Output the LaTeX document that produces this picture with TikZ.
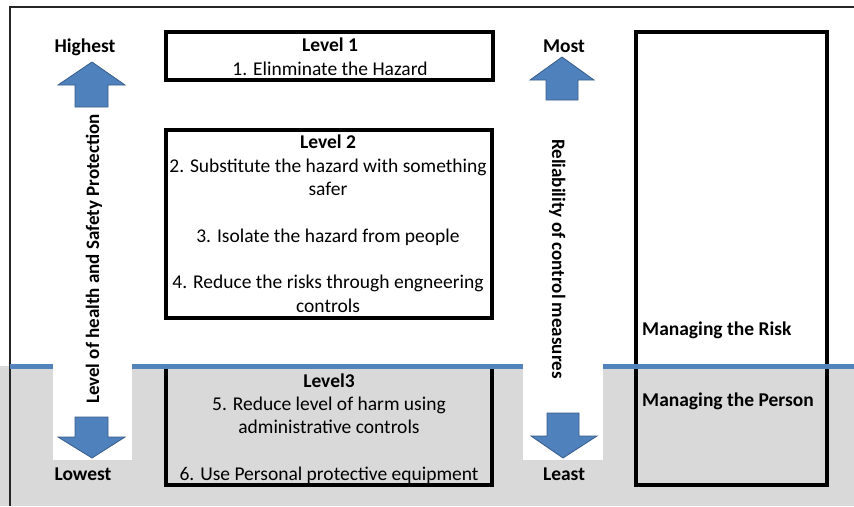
\documentclass[tikz,border=0pt]{standalone}
\usepackage{fontspec}
\setmainfont{Carlito}
\definecolor{arrowblue}{RGB}{79,129,189}
\definecolor{arrowedge}{RGB}{56,93,138}
\definecolor{linegray}{RGB}{217,217,217}
\definecolor{lineblue}{RGB}{84,130,187}
\begin{document}
\begin{tikzpicture}[x=1pt,y=-1pt,
  txt/.style={font=\fontsize{19.5}{23.5}\selectfont, inner sep=0pt, anchor=base},
  btxt/.style={txt, font=\fontsize{19.5}{23.5}\selectfont\bfseries},
  rtxt/.style={txt, font=\fontsize{19}{23}\selectfont\bfseries},
  levelbox/.style={draw=black, line width=3.5pt},
  bigarrow/.style={fill=arrowblue, draw=arrowedge, line width=0.8pt, line join=miter}]
\useasboundingbox (0,0) rectangle (854,506);
% background
\fill[white] (0,0) rectangle (854,506);
\fill[linegray] (0,366) rectangle (854,506);
\fill[white] (53,360) rectangle (132,460);
\fill[white] (523,360) rectangle (603,460);
% outer frame
\draw[line width=1.5pt, black!85] (10,506) -- (10,7) -- (854,7);
% boxes
\draw[levelbox] (166,32) rectangle (493,80);
\draw[levelbox] (166,130) rectangle (492,318);
\draw[levelbox] (166,366) rectangle (492,485);
\draw[levelbox] (636,32) rectangle (827,485);
% blue separator
\draw[lineblue, line width=5pt] (10,366) -- (53,366);
\draw[lineblue, line width=5pt] (132,366) -- (523,366);
\draw[lineblue, line width=5pt] (603,366) -- (854,366);
% arrows
\draw[bigarrow] (92,62) -- (125,85) -- (108,85) -- (108,107) -- (75,107) -- (75,85) -- (58,85) -- cycle;
\draw[bigarrow] (92,458) -- (125,437) -- (108,437) -- (108,417) -- (75,417) -- (75,437) -- (58,437) -- cycle;
\draw[bigarrow] (562,57) -- (594,80) -- (578,80) -- (578,100) -- (546,100) -- (546,80) -- (530,80) -- cycle;
\draw[bigarrow] (563,458) -- (597,436) -- (579,436) -- (579,413) -- (547,413) -- (547,436) -- (531,436) -- cycle;
% side labels
\node[btxt] (high) at (85,52) {Highest};
\node[btxt] (low) at (83,480) {Lowest};
\node[btxt] (most) at (564,52) {Most};
\node[btxt] (least) at (564,480) {Least};
\node[rtxt, rotate=90] (hsp) at (99,259) {Level of health and Safety Protection};
\node[rtxt, rotate=-90] (rel) at (552,259) {Reliability of control measures};
% level 1
\node[btxt] (l1) at (330,51) {Level 1};
\node[txt] (l1a) at (330,75) {1. Elinminate the Hazard};
% level 2
\node[btxt] (l2) at (328,148) {Level 2};
\node[txt] (l2a) at (328,172) {2. Substitute the hazard with something};
\node[txt] (l2b) at (328,195) {safer};
\node[txt] (l2c) at (328,242) {3. Isolate the hazard from people};
\node[txt] (l2d) at (328,288) {4. Reduce the risks through engneering};
\node[txt] (l2e) at (328,312) {controls};
% level 3
\node[btxt] (l3) at (329,387) {Level3};
\node[txt] (l3a) at (329,410) {5. Reduce level of harm using};
\node[txt] (l3b) at (329,433) {administrative controls};
\node[txt] (l3c) at (329,480) {6. Use Personal protective equipment};
% right box
\node[btxt, anchor=base west] (risk) at (642,335) {Managing the Risk};
\node[btxt, anchor=base west] (person) at (642,406) {Managing the Person};
\end{tikzpicture}
\end{document}
